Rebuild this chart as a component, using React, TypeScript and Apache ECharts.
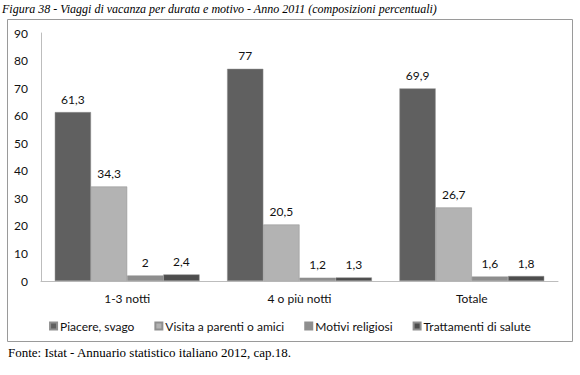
import React, { useEffect, useRef } from "react";
import * as echarts from "echarts";

const categories = ["1-3 notti", "4 o più notti", "Totale"];
const seriesNames = ["Piacere, svago", "Visita a parenti o amici", "Motivi religiosi", "Trattamenti di salute"];
const piacere = [61.3, 77, 69.9];
const visita = [34.3, 20.5, 26.7];
const religiosi = [2, 1.2, 1.6];
const salute = [2.4, 1.3, 1.8];
const colors = ["#606060", "#b3b3b3", "#8e8e8e", "#4d4d4d"];

const titleText = "Figura 38 - Viaggi di vacanza per durata e motivo - Anno 2011 (composizioni percentuali)";
const sourceText = "Fonte: Istat - Annuario statistico italiano 2012, cap.18.";

export default function App() {
  const ref = useRef<HTMLDivElement>(null);
  useEffect(() => {
    if (!ref.current) return;
    const chart = echarts.init(ref.current, null, { renderer: "svg" });
    const values = [piacere, visita, religiosi, salute];
    const font = "Lato, 'Open Sans', sans-serif";
    chart.setOption({
      animation: false,
      backgroundColor: "#ffffff",
      textStyle: { fontFamily: font },
      grid: { left: 41, right: 22, top: 33, bottom: 94, containLabel: false },
      graphic: [
        {
          type: "rect",
          shape: { x: 7.5, y: 19.5, width: 565, height: 322 },
          style: { fill: "none", stroke: "#9a9a9a", lineWidth: 1 },
          z: -1,
        },
        {
          type: "text",
          x: 2,
          y: 3,
          style: {
            text: titleText,
            font: "italic 12px 'Liberation Serif', 'DejaVu Serif', serif",
            fill: "#000",
          },
        },
        {
          type: "text",
          x: 8,
          y: 346,
          style: {
            text: sourceText,
            font: "13px 'Liberation Serif', 'DejaVu Serif', serif",
            fill: "#000",
          },
        },
      ],
      legend: {
        bottom: 38,
        left: "center",
        itemWidth: 7,
        itemHeight: 7,
        itemGap: 20,
        icon: "rect",
        textStyle: { fontFamily: font, fontSize: 12, color: "#111", padding: [0, 0, 0, -2] },
        data: seriesNames,
      },
      xAxis: {
        type: "category",
        data: categories,
        axisLine: { lineStyle: { color: "#bdbdbd", width: 1 } },
        axisTick: { show: false },
        axisLabel: { color: "#111", fontSize: 12, margin: 11, fontFamily: font },
      },
      yAxis: {
        type: "value",
        min: 0,
        max: 90,
        interval: 10,
        axisLine: { show: true, lineStyle: { color: "#bdbdbd", width: 1 } },
        axisTick: { show: false },
        splitLine: { show: false },
        axisLabel: { color: "#111", fontSize: 12, margin: 13, fontFamily: font },
      },
      series: seriesNames.map((name, i) => ({
        name,
        type: "bar",
        data: values[i],
        barGap: "0%",
        barCategoryGap: "16%",
        itemStyle: { color: colors[i], borderColor: "#8f8f8f", borderWidth: 0.5 },
        label: {
          show: true,
          position: "top",
          distance: 7,
          fontSize: 12,
          color: "#111",
          fontFamily: font,
          formatter: (p: any) => String(p.value).replace(".", ","),
        },
      })),
    });
    return () => chart.dispose();
  }, []);
  return (
    <div
      ref={ref}
      style={{ position: "fixed", left: 0, top: 0, width: 580, height: 375 }}
    />
  );
}
